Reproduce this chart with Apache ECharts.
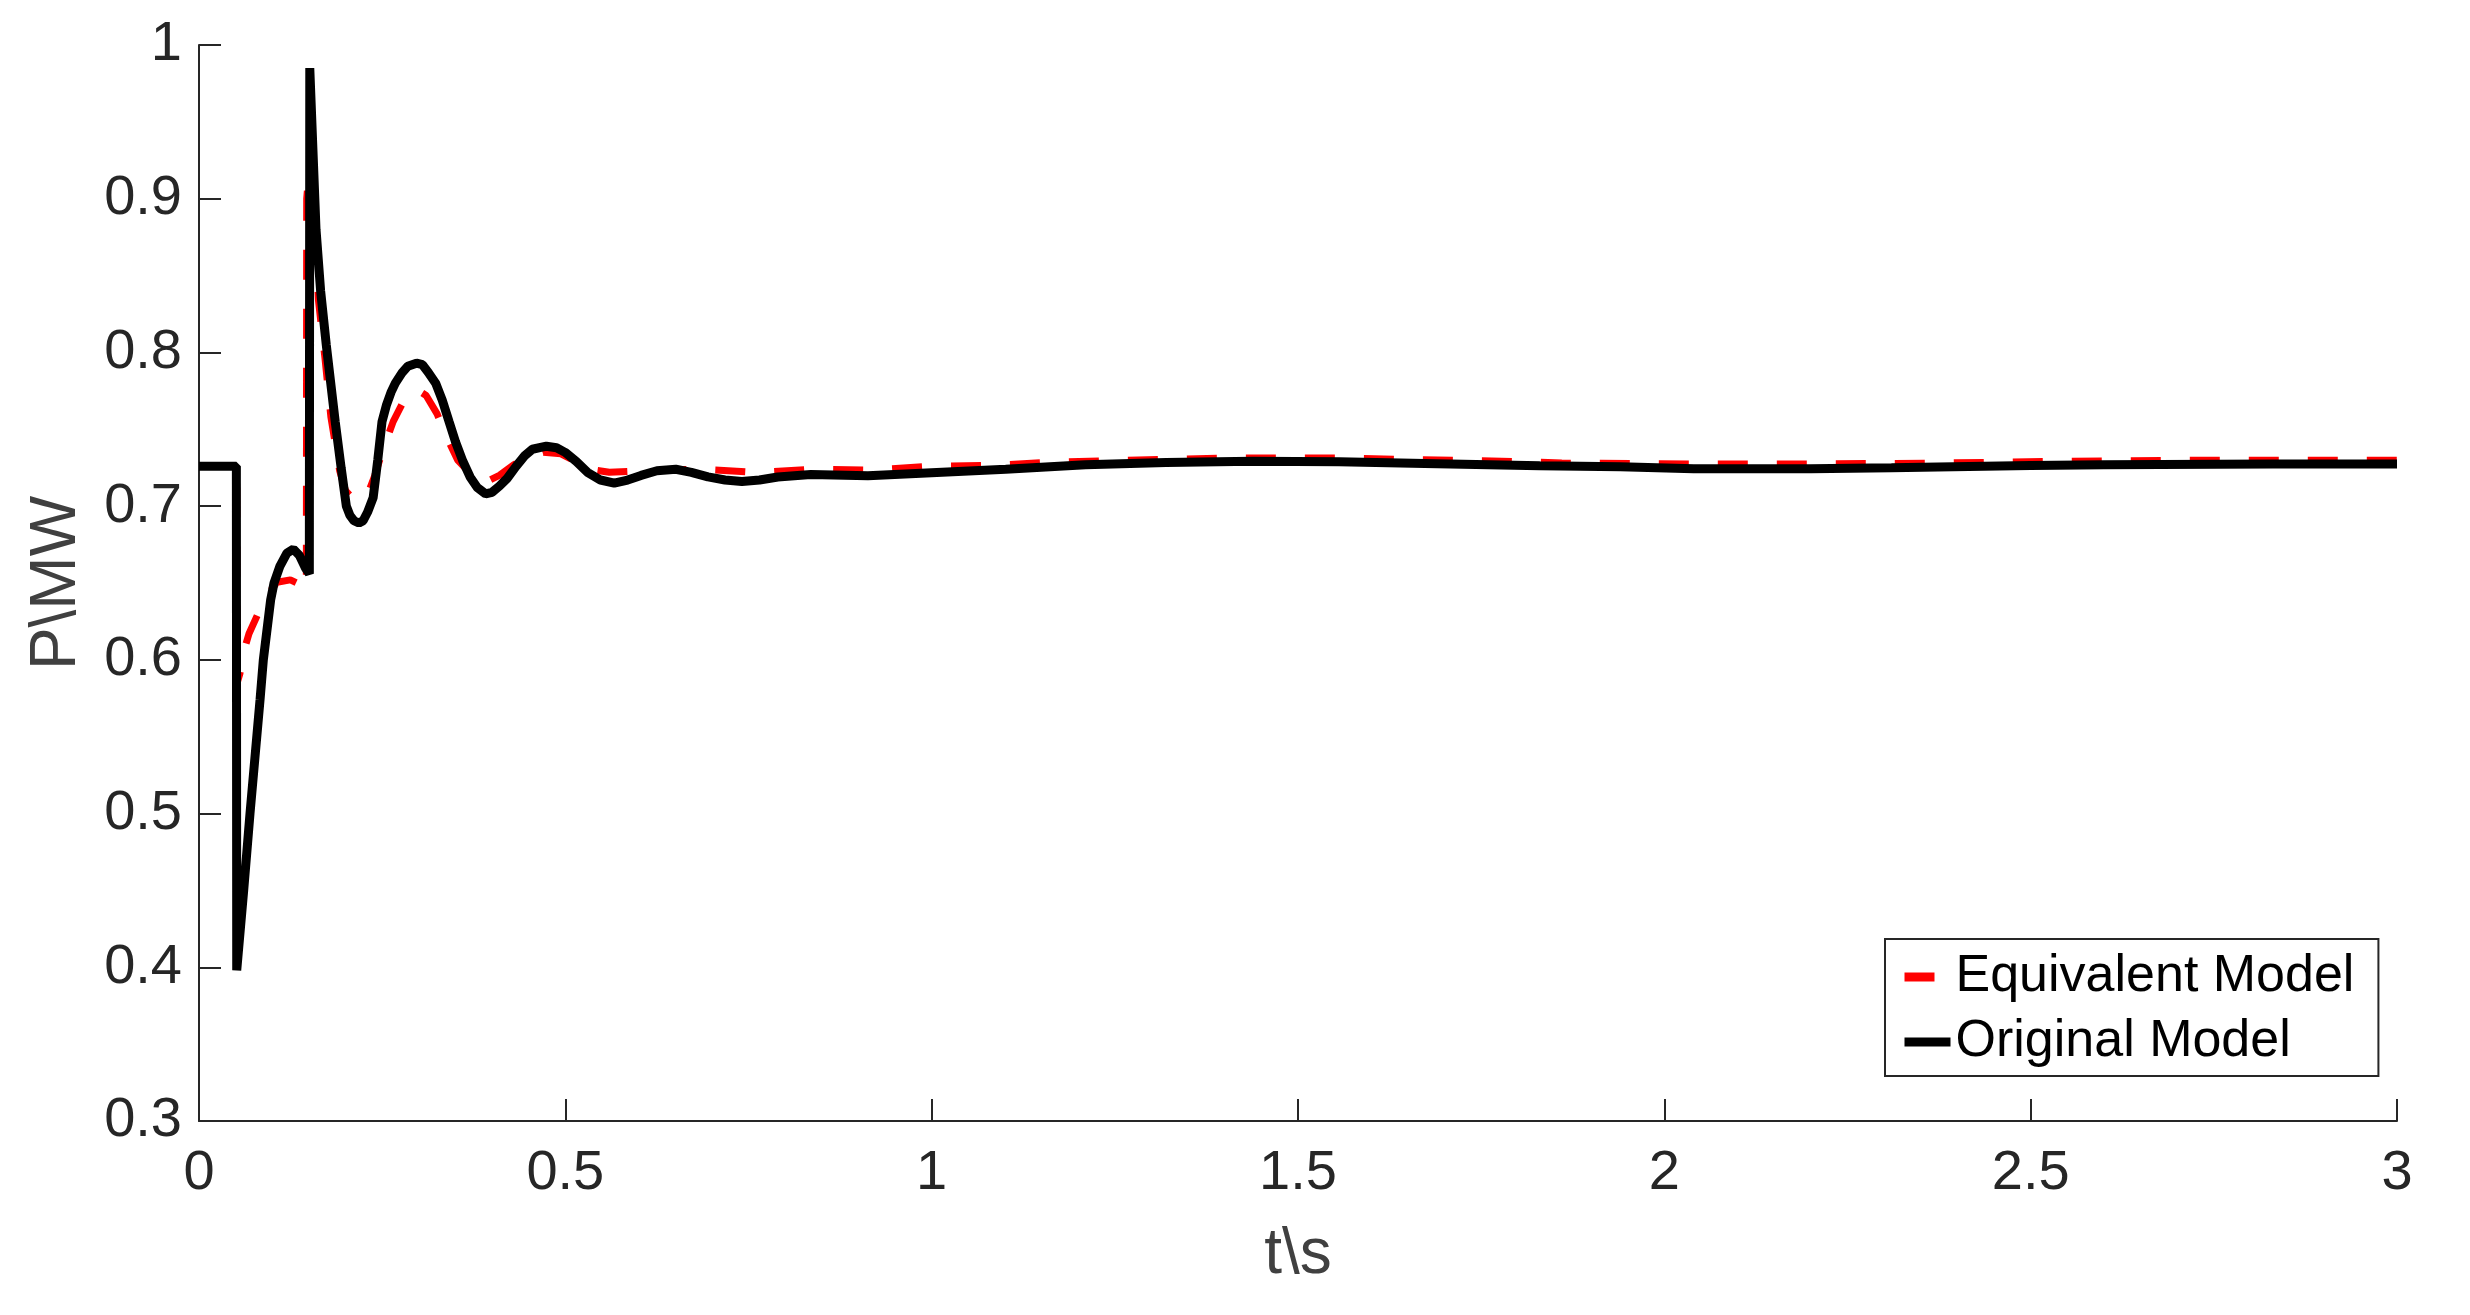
<!DOCTYPE html>
<html>
<head>
<meta charset="utf-8">
<title>P\MW</title>
<script src="https://cdn.jsdelivr.net/npm/echarts@6/dist/echarts.min.js"></script>
<style>
  html, body { margin: 0; padding: 0; background: #fff; }
  #chart { width: 2470px; height: 1315px; }
</style>
</head>
<body>
<div id="chart"></div>
<script>
// values
const seriesNames = ['Equivalent Model', 'Original Model'];

const tEquivalent = [0, 0.0515, 0.052, 0.0558, 0.062, 0.0682, 0.0796, 0.09, 0.1065, 0.1247, 0.136, 0.1465,
    0.147, 0.1505, 0.1597, 0.163, 0.172, 0.18, 0.192, 0.2, 0.212, 0.225, 0.232, 0.24, 0.25, 0.265, 0.282, 0.297, 0.31,
    0.325, 0.338, 0.353, 0.375, 0.393, 0.41, 0.43, 0.45, 0.47, 0.494, 0.515, 0.533, 0.56, 0.603, 0.683, 0.762, 0.84,
    0.92, 1.0, 1.08, 1.16, 1.24, 1.32, 1.4, 1.48, 1.56, 1.64, 1.72, 1.8, 1.86, 2.04, 2.2, 2.37, 2.53, 2.69, 2.93, 3.0];
const pEquivalent = [0.726, 0.726, 0.585, 0.591, 0.607, 0.617, 0.629, 0.64, 0.6505, 0.652, 0.6495, 0.645,
    0.9, 0.92, 0.867, 0.834, 0.796, 0.758, 0.723, 0.71, 0.704, 0.705, 0.71, 0.72, 0.735, 0.755, 0.771, 0.776, 0.772,
    0.76, 0.745, 0.73, 0.719, 0.716, 0.72, 0.727, 0.732, 0.735, 0.734, 0.729, 0.724, 0.722, 0.723, 0.724, 0.722, 0.724,
    0.7235, 0.726, 0.7265, 0.7285, 0.7296, 0.7304, 0.7313, 0.7313, 0.7313, 0.7304, 0.7298, 0.729, 0.728, 0.7274, 0.7274,
    0.728, 0.7291, 0.7298, 0.7298, 0.7298];

const tOriginal = [0, 0.051, 0.0515, 0.0523, 0.061, 0.0696, 0.0833, 0.0878, 0.0978, 0.1024, 0.1105, 0.12,
    0.1288, 0.137, 0.145, 0.1506, 0.1512, 0.1597, 0.166, 0.1737, 0.1859, 0.194, 0.2011, 0.206, 0.2115, 0.2182,
    0.224, 0.23, 0.2377, 0.244, 0.2498, 0.256, 0.262, 0.268, 0.2775, 0.285, 0.2968, 0.305, 0.313, 0.323, 0.332,
    0.3413, 0.35, 0.3595, 0.37, 0.38, 0.3912, 0.4, 0.41, 0.4205, 0.433, 0.4449, 0.455, 0.4741, 0.488, 0.4997,
    0.515, 0.5302, 0.548, 0.5667, 0.585, 0.6033, 0.625, 0.6508, 0.672, 0.6947, 0.718, 0.741, 0.765, 0.79, 0.835,
    0.913, 1.007, 1.101, 1.21, 1.32, 1.438, 1.556, 1.673, 1.83, 1.94, 2.04, 2.2, 2.31, 2.5, 2.6, 2.83, 3.0];
const pOriginal = [0.726, 0.726, 0.398, 0.398, 0.45, 0.5, 0.574, 0.6, 0.639, 0.65, 0.661, 0.6695,
    0.672, 0.668, 0.66, 0.656, 0.985, 0.88, 0.84, 0.805, 0.755, 0.725, 0.7, 0.694, 0.6905, 0.689,
    0.6905, 0.696, 0.7055, 0.73, 0.755, 0.766, 0.774, 0.78, 0.787, 0.791, 0.793, 0.792, 0.787, 0.78, 0.769,
    0.755, 0.742, 0.73, 0.719, 0.712, 0.708, 0.709, 0.713, 0.718, 0.726, 0.733, 0.737, 0.739, 0.738, 0.735,
    0.729, 0.722, 0.717, 0.715, 0.717, 0.72, 0.723, 0.724, 0.722, 0.719, 0.717, 0.716, 0.717, 0.719, 0.7206,
    0.7197, 0.7219, 0.724, 0.727, 0.7284, 0.7292, 0.7288, 0.7277, 0.7262, 0.7256, 0.7243, 0.7243, 0.7249, 0.7264,
    0.727, 0.7274, 0.7274];

const xTicks = { min: 0, max: 3, interval: 0.5 };
const yTicks = { min: 0.3, max: 1, interval: 0.1 };

const zip = (t, p) => t.map((v, i) => [v, p[i]]);

const font = 'Liberation Sans, Arial, Helvetica, sans-serif';
const axisColor = '#262626';

const myChart = echarts.init(document.getElementById('chart'), null, { renderer: 'canvas' });

const option = {
    backgroundColor: '#ffffff',
    animation: false,
    grid: {
        left: 199,
        right: 73,
        top: 45,
        bottom: 194,
        containLabel: false,
        outerBoundsMode: 'none'
    },
    legend: {
        orient: 'vertical',
        left: 1885,
        top: 939,
        padding: [12, 24, 8, 15],
        itemGap: 13,
        itemWidth: 46,
        itemHeight: 20,
        borderColor: axisColor,
        borderWidth: 2,
        backgroundColor: '#fff',
        itemStyle: { opacity: 0 },
        lineStyle: { width: 9 },
        textStyle: { fontFamily: font, fontSize: 52, color: '#000' },
        data: seriesNames
    },
    xAxis: {
        type: 'value',
        min: xTicks.min,
        max: xTicks.max,
        interval: xTicks.interval,
        name: 't\\s',
        nameLocation: 'middle',
        nameGap: 102,
        nameMoveOverlap: false,
        nameTextStyle: { fontFamily: font, fontSize: 64, color: '#404040' },
        axisLine: { show: true, onZero: false, lineStyle: { color: axisColor, width: 2 } },
        axisTick: { show: true, inside: true, length: 22, lineStyle: { color: axisColor, width: 2 } },
        axisLabel: { margin: 25, fontFamily: font, fontSize: 56, color: axisColor },
        splitLine: { show: false }
    },
    yAxis: {
        type: 'value',
        min: yTicks.min,
        max: yTicks.max,
        interval: yTicks.interval,
        name: 'P\\MW',
        nameLocation: 'middle',
        nameGap: 110,
        nameMoveOverlap: false,
        nameTextStyle: { fontFamily: font, fontSize: 64, color: '#404040' },
        axisLine: { show: true, onZero: false, lineStyle: { color: axisColor, width: 2 } },
        axisTick: { show: true, inside: true, length: 22, lineStyle: { color: axisColor, width: 2 } },
        axisLabel: { margin: 17, fontFamily: font, fontSize: 56, color: axisColor },
        splitLine: { show: false }
    },
    series: [
        {
            name: seriesNames[0],
            type: 'line',
            data: zip(tEquivalent, pEquivalent),
            symbol: 'none',
            showSymbol: false,
            lineStyle: { color: '#ff0000', width: 7, type: [30, 29] },
            itemStyle: { color: '#ff0000' },
            z: 2
        },
        {
            name: seriesNames[1],
            type: 'line',
            data: zip(tOriginal, pOriginal),
            symbol: 'none',
            showSymbol: false,
            lineStyle: { color: '#000000', width: 9, type: 'solid' },
            itemStyle: { color: '#000000' },
            z: 3
        }
    ]
};

option && myChart.setOption(option);
</script>
</body>
</html>
